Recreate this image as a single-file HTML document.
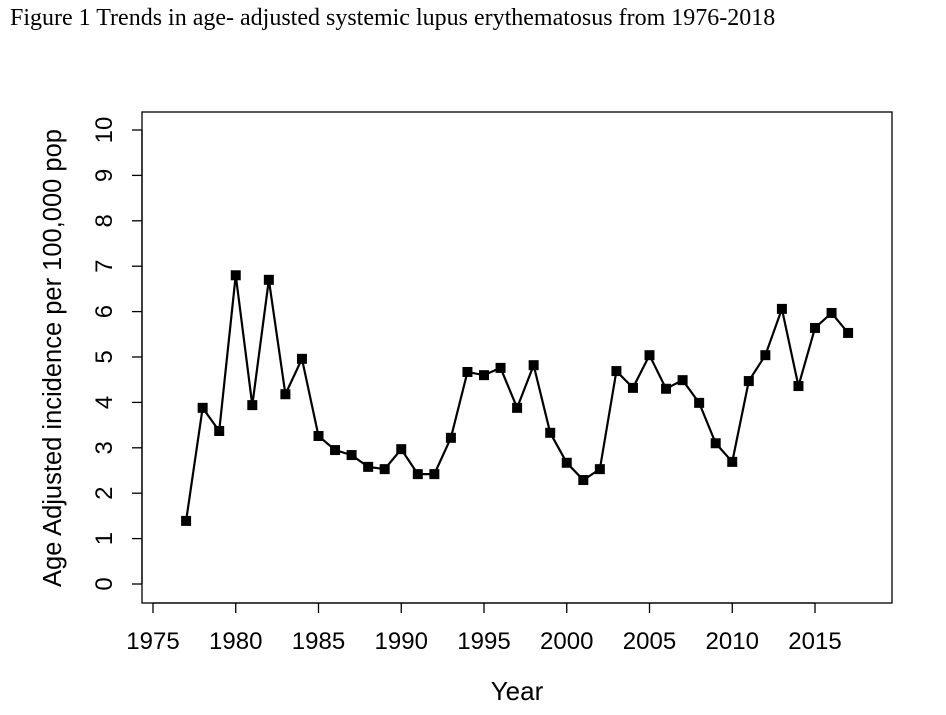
<!DOCTYPE html>
<html><head><meta charset="utf-8">
<style>
html,body{margin:0;padding:0;background:#fff;width:946px;height:715px;overflow:hidden}
#title{position:absolute;left:10px;top:5px;font-family:"Liberation Serif",serif;font-size:24px;color:#000;white-space:nowrap}
svg{position:absolute;left:0;top:0}
text{font-family:"Liberation Sans",sans-serif;fill:#000}
</style></head>
<body>
<div id="title">Figure 1 Trends in age- adjusted systemic lupus erythematosus from 1976-2018</div>
<svg id="chart" width="946" height="715"></svg>
<script>
const years = [1977,1978,1979,1980,1981,1982,1983,1984,1985,1986,1987,1988,1989,1990,1991,1992,1993,1994,1995,1996,1997,1998,1999,2000,2001,2002,2003,2004,2005,2006,2007,2008,2009,2010,2011,2012,2013,2014,2015,2016,2017];
const incidence = [1.39,3.88,3.37,6.8,3.94,6.7,4.18,4.96,3.26,2.95,2.84,2.58,2.53,2.97,2.42,2.42,3.22,4.67,4.6,4.76,3.88,4.82,3.33,2.67,2.29,2.53,4.69,4.32,5.04,4.3,4.49,3.99,3.1,2.69,4.47,5.04,6.06,4.36,5.64,5.97,5.53];
const xTicks = [1975,1980,1985,1990,1995,2000,2005,2010,2015];
const yTicks = [0,1,2,3,4,5,6,7,8,9,10];

const NS = "http://www.w3.org/2000/svg";
const svg = document.getElementById('chart');
const xS = v => 153 + (v - 1975) * (815 - 153) / 40;
const yS = v => 584 - v * (584 - 130) / 10;
function mk(tag, attrs, parent) {
  const e = document.createElementNS(NS, tag);
  for (const k in attrs) e.setAttribute(k, attrs[k]);
  (parent || svg).appendChild(e);
  return e;
}
const box = mk('rect', {x:142, y:112, width:750, height:491, fill:'none', stroke:'#000', 'stroke-width':1.3});



const xa = mk('g', {});


mk('line', {x1:xS(1975), x2:xS(2015), y1:603, y2:603, stroke:'#000', 'stroke-width':1.3}, xa);
xTicks.forEach(t => {
  mk('line', {x1:xS(t), x2:xS(t), y1:603, y2:613, stroke:'#000', 'stroke-width':1.3}, xa);
  const tx = mk('text', {x:xS(t), y:649, 'text-anchor':'middle', 'font-size':24}, xa);
  tx.textContent = t;
  
  
});
const xt = mk('text', {x:517, y:700, 'text-anchor':'middle', 'font-size':26});
xt.textContent = 'Year';



const ya = mk('g', {});


mk('line', {x1:142, x2:142, y1:yS(0), y2:yS(10), stroke:'#000', 'stroke-width':1.3}, ya);
yTicks.forEach(t => {
  mk('line', {x1:132, x2:142, y1:yS(t), y2:yS(t), stroke:'#000', 'stroke-width':1.3}, ya);
  const tx = mk('text', {x:0, y:0, 'text-anchor':'middle', 'font-size':24, transform:`translate(112,${yS(t)}) rotate(-90)`}, ya);
  tx.textContent = t;
  
  
});
const yt = mk('text', {x:0, y:0, 'text-anchor':'middle', 'font-size':25.5, transform:'translate(61,358) rotate(-90)'});
yt.textContent = 'Age Adjusted incidence per 100,000 pop';



const pts = years.map((y, i) => xS(y) + ',' + yS(incidence[i])).join(' ');
const line = mk('polyline', {points:pts, fill:'none', stroke:'#000', 'stroke-width':2.2});


years.forEach((y, i) => {
  const p = mk('rect', {x:xS(y) - 5, y:yS(incidence[i]) - 5, width:10, height:10, fill:'#000'});
  
  
});
</script>
</body></html>
